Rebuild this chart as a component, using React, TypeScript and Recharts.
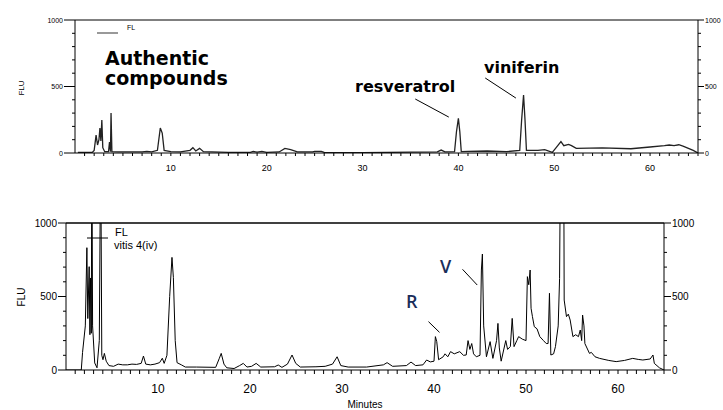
import React from 'react';
import { LineChart, Line, XAxis, YAxis, ReferenceLine, Legend } from 'recharts';

// Upper chromatogram: authentic compounds
const topTimes = [0.3, 1.8, 2.0, 2.2, 2.35, 2.5, 2.6, 2.7, 2.8, 2.9, 3.1, 3.5, 3.6, 3.7, 3.76, 3.85, 4.5, 7, 7.5, 8, 8.6, 8.9, 9.1, 9.3, 10, 11, 12, 12.3, 12.6, 13.0, 13.4, 16, 18.3, 18.6, 19, 19.5, 20, 21.3, 21.9, 22.5, 23.2, 24.8, 25, 25.7, 26, 30, 35, 37.8, 38.2, 38.6, 39.6, 39.8, 40.0, 40.15, 40.3, 41, 43, 45, 46.4, 46.6, 46.8, 46.95, 47.1, 48.3, 49.0, 49.8, 50.2, 50.7, 51.0, 51.5, 51.8, 52.3, 55, 58, 60, 61.5, 62, 62.5, 63, 63.5, 64.5, 65];
const topValues = [5, 5, 20, 135, 60, 100, 188, 90, 248, 40, 10, 10, 83, 10, 300, 10, 8, 8, 12, 8, 20, 188, 150, 20, 10, 8, 20, 40, 15, 35, 10, 5, 5, 12, 6, 12, 5, 8, 35, 25, 8, 8, 12, 12, 5, 3, 6, 8, 22, 8, 10, 160, 260, 160, 10, 12, 15, 10, 20, 250, 435, 250, 20, 20, 25, 5, 40, 85, 55, 65, 55, 35, 38, 32, 45, 55, 60, 55, 62, 50, 20, 0];

// Lower chromatogram: vitis 4(iv)
const bottomTimes = [0, 1.66, 1.8, 2.1, 2.27, 2.37, 2.52, 2.6, 2.67, 2.75, 2.81, 2.89, 3.12, 3.37, 3.62, 3.77, 3.89, 4.02, 4.17, 4.37, 4.67, 5.17, 5.67, 6.17, 6.67, 7.17, 7.67, 8.17, 8.42, 8.67, 9.17, 9.67, 10.17, 10.47, 10.67, 10.97, 11.27, 11.52, 11.67, 11.87, 12.07, 12.57, 12.97, 14.17, 16.27, 16.67, 16.87, 17.17, 17.47, 18.27, 18.87, 19.27, 19.67, 20.17, 20.67, 21.17, 22.67, 23.07, 23.47, 24.07, 24.57, 24.97, 25.47, 27.17, 28.17, 28.97, 29.47, 29.87, 30.67, 32.67, 34.5, 34.9, 35.5, 37, 37.5, 38, 38.8, 39.2, 39.6, 40.0, 40.15, 40.3, 40.5, 41.0, 41.2, 41.5, 41.8, 42.2, 42.8, 43.2, 43.5, 43.7, 43.9, 44.1, 44.3, 44.6, 45.0, 45.15, 45.26, 45.4, 45.7, 46.1, 46.4, 46.8, 46.95, 47.1, 47.3, 47.8, 48.0, 48.3, 48.5, 48.7, 49.0, 49.2, 49.6, 50.0, 50.15, 50.3, 50.45, 50.55, 50.7, 50.9, 51.2, 51.5, 51.9, 52.2, 52.4, 52.55, 52.7, 53.0, 53.2, 53.5, 53.65, 53.75, 54.1, 54.15, 54.4, 54.6, 54.8, 55.1, 55.4, 55.7, 55.9, 56.05, 56.15, 56.3, 56.4, 56.9, 57.1, 57.5, 58, 59, 59.8, 60.7, 61.6, 62.2, 62.7, 63.5, 63.8, 63.95, 64.5, 65];
const bottomValues = [0, 0, 120, 300, 832, 350, 703, 240, 626, 250, 1600, 300, 48, 15, 200, 1600, 100, 70, 113, 60, 30, 25, 40, 35, 35, 40, 38, 45, 95, 40, 35, 40, 50, 80, 45, 100, 500, 766, 630, 200, 50, 34, 20, 20, 18, 80, 113, 40, 15, 10, 30, 45, 20, 25, 45, 20, 22, 34, 18, 40, 102, 45, 20, 22, 25, 40, 90, 30, 20, 20, 35, 50, 25, 30, 54, 30, 35, 68, 55, 60, 227, 193, 70, 90, 110, 90, 125, 110, 125, 100, 102, 200, 140, 180, 110, 90, 100, 680, 789, 300, 90, 193, 79, 200, 317, 150, 60, 200, 140, 160, 351, 159, 200, 227, 210, 200, 635, 580, 680, 420, 363, 295, 280, 227, 200, 180, 180, 522, 102, 110, 159, 300, 623, 1500, 1500, 476, 363, 380, 340, 227, 240, 227, 272, 200, 374, 300, 180, 113, 120, 90, 79, 65, 57, 65, 79, 72, 68, 75, 102, 45, 15, 0];

const xMajorTicks = [10, 20, 30, 40, 50, 60];
const xMinorTicks = Array.from({ length: 65 }, (_, i) => i + 1);
const yTicks = [0, 100, 200, 300, 400, 500, 600, 700, 800, 900, 1000];
const yLabels = [0, 500, 1000];

const topData = topTimes.map((t, i) => ({ t, v: topValues[i] }));
const bottomData = bottomTimes.map((t, i) => ({ t, v: bottomValues[i] }));

const makeYTick = (side: 'left' | 'right', fontSize: number, majorLen: number) => (p: any) => {
  const v = p.payload.value;
  if (!yLabels.includes(v)) return <g />;
  const dir = side === 'left' ? -1 : 1;
  return (
    <g>
      <line x1={p.x} y1={p.y} x2={p.x + dir * majorLen} y2={p.y} stroke="#000" />
      <text x={p.x + dir * (majorLen + 1)} y={p.y} textAnchor={side === 'left' ? 'end' : 'start'} dominantBaseline="central" fontSize={fontSize} fill="#000">
        {v}
      </text>
    </g>
  );
};

const makeXTick = (fontSize: number, dy: number) => (p: any) => {
  const v = p.payload.value;
  if (!xMajorTicks.includes(v)) return <g />;
  return (
    <text x={p.x} y={p.y + dy} textAnchor="middle" dominantBaseline="central" fontSize={fontSize} fill="#000">
      {v}
    </text>
  );
};

const TopLegend = () => (
  <svg width={60} height={16}>
    <line x1={2} y1={11} x2={23} y2={11} stroke="#777" strokeWidth={1.5} />
    <text x={32} y={5} fontSize={7} dominantBaseline="central" fill="#000">FL</text>
  </svg>
);

const BottomLegend = () => (
  <svg width={90} height={30}>
    <line x1={2} y1={14} x2={23} y2={14} stroke="#000" strokeWidth={1} />
    <text x={30} y={8} fontSize={11} dominantBaseline="central" fill="#000">FL</text>
    <text x={29} y={21} fontSize={11} dominantBaseline="central" fill="#000">vitis 4(iv)</text>
  </svg>
);

export default function App() {
  return (
    <div style={{ position: 'absolute', left: 0, top: 0, width: 723, height: 410, background: '#fff', fontFamily: '"Liberation Sans", Arial, sans-serif', overflow: 'hidden' }}>
      <div style={{ position: 'absolute', left: 0, top: 0 }}>
        <LineChart width={723} height={180} data={topData} margin={{ top: 20, right: 0, left: 0, bottom: 0 }}>
          <XAxis dataKey="t" type="number" domain={[0, 65]} ticks={xMinorTicks} interval={0} tick={makeXTick(9, 12)} tickSize={3} tickMargin={0} height={27} stroke="#000" allowDataOverflow />
          <YAxis yAxisId="l" orientation="left" width={75} domain={[0, 1000]} ticks={yTicks} interval={0} tick={makeYTick('left', 7, 8)} tickSize={3} tickMargin={0} stroke="#000" allowDataOverflow
            label={{ value: 'FLU', angle: -90, position: 'center', dx: -16.5, dy: 1.5, fontSize: 8, fill: '#000' }} />
          <YAxis yAxisId="r" orientation="right" width={25} domain={[0, 1000]} ticks={yTicks} interval={0} tick={makeYTick('right', 7, 3)} tickSize={3} tickMargin={0} stroke="#000" allowDataOverflow />
          <ReferenceLine yAxisId="l" y={1000} stroke="#000" />
          <ReferenceLine yAxisId="l" segment={[{ x: 35.5, y: 406 }, { x: 39.0, y: 270 }]} stroke="#000" />
          <ReferenceLine yAxisId="l" segment={[{ x: 42.8, y: 564 }, { x: 46.0, y: 413 }]} stroke="#000" />
          <Legend layout="horizontal" verticalAlign="middle" align="center" content={() => <TopLegend />} wrapperStyle={{ position: 'absolute', left: 95, top: 22, width: 60, height: 16 }} />
          <Line yAxisId="l" dataKey="v" type="linear" dot={false} stroke="#222" strokeWidth={1.3} isAnimationActive={false} />
        </LineChart>
      </div>
      <div style={{ position: 'absolute', left: 0, top: 190 }}>
        <LineChart width={723} height={220} data={bottomData} margin={{ top: 33, right: 0, left: 0, bottom: 0 }}>
          <XAxis dataKey="t" type="number" domain={[0, 65]} ticks={xMinorTicks} interval={0} tick={makeXTick(12, 15)} tickSize={4} tickMargin={0} height={40} stroke="#000" allowDataOverflow
            label={{ value: 'Minutes', position: 'center', dy: 14, fontSize: 10, fill: '#000' }} />
          <YAxis yAxisId="l" orientation="left" width={66} domain={[0, 1000]} ticks={yTicks} interval={0} tick={makeYTick('left', 10, 5)} tickSize={3} tickMargin={0} stroke="#000" allowDataOverflow
            label={{ value: 'FLU', angle: -90, position: 'center', dx: -12, dy: 0.5, fontSize: 10, fill: '#000' }} />
          <YAxis yAxisId="r" orientation="right" width={59} domain={[0, 1000]} ticks={yTicks} interval={0} tick={makeYTick('right', 10, 4)} tickSize={3} tickMargin={0} stroke="#000" allowDataOverflow />
          <ReferenceLine yAxisId="l" y={1000} stroke="#000" strokeWidth={1.5} />
          <ReferenceLine yAxisId="l" segment={[{ x: 39.4, y: 329 }, { x: 40.6, y: 256 }]} stroke="#000" />
          <ReferenceLine yAxisId="l" segment={[{ x: 43.1, y: 685 }, { x: 44.7, y: 578 }]} stroke="#000" />
          <Legend layout="horizontal" verticalAlign="middle" align="center" content={() => <BottomLegend />} wrapperStyle={{ position: 'absolute', left: 85, top: 34, width: 90, height: 30 }} />
          <Line yAxisId="l" dataKey="v" type="linear" dot={false} stroke="#000" strokeWidth={1} isAnimationActive={false} />
        </LineChart>
      </div>
      <svg width={723} height={410} style={{ position: 'absolute', left: 0, top: 0, pointerEvents: 'none' }}>
        <g fontFamily='"DejaVu Sans", Verdana, sans-serif' fontWeight="bold" fill="#000">
          <text x={105} y={65} fontSize={19}>Authentic</text>
          <text x={105} y={85} fontSize={19}>compounds</text>
          <text x={355} y={92} fontSize={16}>resveratrol</text>
          <text x={484} y={73} fontSize={16}>viniferin</text>
        </g>
        <g fontFamily='"Open Sans", "Noto Sans", sans-serif' fontWeight={600} fill="#1a2d5a">
          <text x={406} y={308} fontSize={18}>R</text>
          <text x={440} y={273} fontSize={18}>V</text>
        </g>
      </svg>
    </div>
  );
}
